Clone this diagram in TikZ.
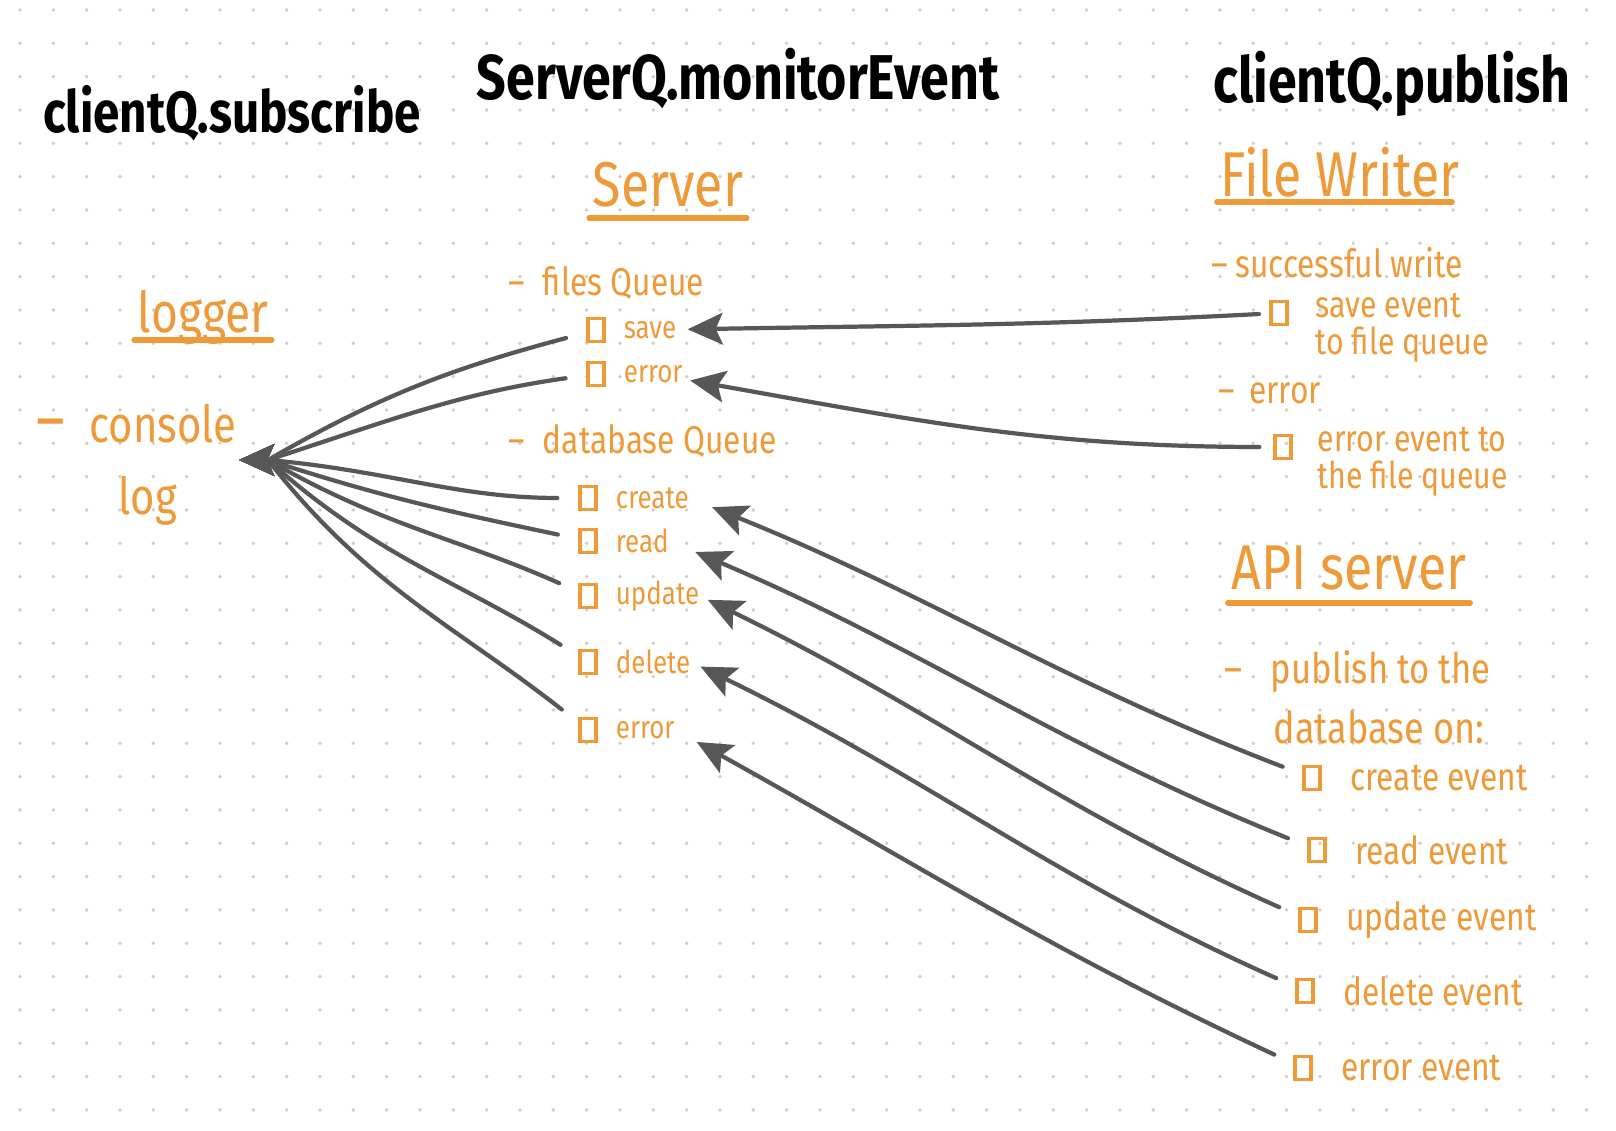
\documentclass[tikz,border=0pt]{standalone}
\usepackage{fontspec}
\setmainfont{Fira Sans}[FakeStretch=0.82]
\usetikzlibrary{arrows.meta,positioning}
\definecolor{ink}{HTML}{EE9A38}
\definecolor{pen}{HTML}{575757}
\definecolor{dotgray}{HTML}{CFCFCF}

\begin{document}
\begin{tikzpicture}[
  x=0.01cm, y=0.01cm,
  hd/.style={font=\fontsize{18}{20}\selectfont\bfseries, text=black, anchor=base, inner sep=0pt},
  ttl/.style={font=\fontsize{18}{20}\selectfont, text=ink, anchor=base, inner sep=0pt},
  sub/.style={font=\fontsize{11}{13}\selectfont, text=ink, anchor=west, inner sep=0pt},
  itm/.style={font=\fontsize{9}{11}\selectfont, text=ink, anchor=west, inner sep=0pt},
  note/.style={itm, font=\fontsize{10.5}{10.5}\selectfont, align=left},
  aitm/.style={itm, font=\fontsize{11}{13}\selectfont},
  chk/.style={draw=ink, line width=0.9pt, minimum width=0.16cm, minimum height=0.23cm, inner sep=0pt},
  uline/.style={draw=ink, line width=1.5pt, line cap=round},
  arr/.style={-{Stealth[length=10pt, width=9pt, inset=2pt]}, draw=pen, line width=1.2pt, line cap=round}
]
% paper
\useasboundingbox (0,0) rectangle (1616,1131);
\fill[white] (0,0) rectangle (1616,1131);
\foreach \i in {0,...,47}
  \foreach \j in {0,...,33}
    \fill[dotgray] (20+33.33*\i, 1121-33.33*\j) circle (0.55pt);

% queue calls
\node[hd, font=\fontsize{16.5}{20}\selectfont\bfseries] (subQ) at (232,998) {clientQ.subscribe};
\node[hd] (monQ) at (738,1031) {ServerQ.monitorEvent};
\node[hd] (pubQ) at (1392,1028) {clientQ.publish};

% logger
\node[ttl, font=\fontsize{16}{20}\selectfont] (logT) at (203,798) {logger};
\draw[uline] ([shift={(-3,-7)}]logT.base west) -- ([shift={(3,-7)}]logT.base east);
\node[ttl, anchor=base west, font=\fontsize{14.5}{18}\selectfont] (con) at (36,688) {{\fontsize{19}{18}\selectfont –}\hspace{7pt}console};
\node[ttl, anchor=base west, font=\fontsize{14.5}{18}\selectfont] (clog) at (118,616) {log};
\coordinate (logIn) at (239,671);
\coordinate (logHub) at (268,671);

% server
\node[ttl] (srvT) at (668,924) {Server};
\draw[uline] ([shift={(-3,-11)}]srvT.base west) -- ([shift={(3,-11)}]srvT.base east);
\node[sub] (fq) at (508,848) {–\hspace{5pt}files Queue};
\node[chk] (bsv) at (596,801) {};
\node[itm, right=5pt of bsv] (tsv) {save};
\node[chk] (ber) at (596,757) {};
\node[itm, right=5pt of ber] (ter) {error};
\node[sub] (dq) at (508,690) {–\hspace{5pt}database Queue};
\foreach \n/\t/\y in {cr/create/633, rd/read/590, up/update/535, dl/delete/469, ex/error/401} {
  \node[chk] (b\n) at (588,\y) {};
  \node[itm, right=5pt of b\n] (t\n) {\t};
}

% file writer
\node[ttl] (fwT) at (1340,934) {File Writer};
\draw[uline] ([shift={(-3,-5)}]fwT.base west) -- ([shift={(-8,-5)}]fwT.base east);
\node[sub] (sw) at (1211,868) {–\hspace{2pt}successful write};
\node[chk] (bse) at (1279,818) {};
\node[note] (tse) at (1315,803) {save event\\to file queue};
\node[sub] (fe) at (1218,738) {–\hspace{4pt}error};
\node[chk] (bee) at (1283,684) {};
\node[note] (tee) at (1317,669) {error event to\\the file queue};

% api server
\node[ttl] (apiT) at (1349,541) {API server};
\draw[uline] ([shift={(-3,-13)}]apiT.base west) -- ([shift={(3,-13)}]apiT.base east);
\node[sub, font=\fontsize{12}{14}\selectfont] (pubA) at (1224,459) {–\hspace{8pt}publish to the};
\node[sub, font=\fontsize{12.5}{14}\selectfont] (pubB) at (1273,404) {database on:};
\foreach \n/\t/\x/\y in {ce/create/1312/353, re/read/1317/281, ue/update/1308/211, de/delete/1305/140, xe/error/1303/63} {
  \node[chk] (b\n) at (\x,\y) {};
  \node[aitm, right=8pt of b\n] (a\n) {\t\ event};
}

% into the logger
\foreach \b/\o/\i in {bsv/195/30, ber/188/18, bcr/180/-5, brd/168/-18, bup/156/-30, bdl/148/-42, bex/142/-52} {
  \draw[arr, shorten <=6pt] (\b) to[out=\o, in=\i] (logHub) -- (logIn);
}

% into the server
\draw[arr, shorten <=3pt, shorten >=3pt] (bse) to[out=183, in=1] (tsv);
\draw[arr, shorten <=4pt, shorten >=2pt] (bee) to[out=180, in=-10] (ter);
\foreach \b/\t/\s/\o/\i in {bce/tcr/7pt/159/-22, bre/trd/8pt/158/-23, bue/tup/2.5pt/156/-26, bde/tdl/3pt/156/-26, bxe/tex/7pt/155/-29} {
  \draw[arr, shorten <=6pt, shorten >=\s] (\b) to[out=\o, in=\i] (\t.east);
}
\end{tikzpicture}
\end{document}
